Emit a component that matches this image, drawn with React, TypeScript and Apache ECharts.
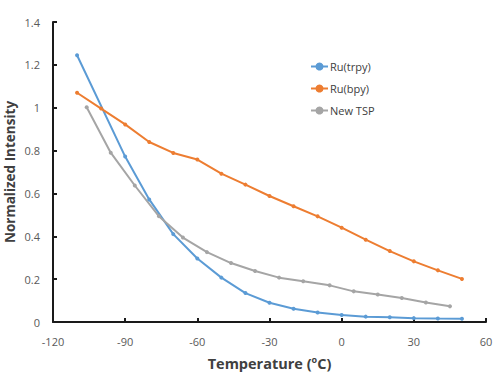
import React, { useEffect, useRef } from "react";
import * as echarts from "echarts";

const trpyX = [-110, -90, -80, -70, -60, -50, -40, -30, -20, -10, 0, 10, 20, 30, 40, 50];
const trpyY = [1.245, 0.772, 0.572, 0.41, 0.296, 0.207, 0.135, 0.09, 0.062, 0.044, 0.033, 0.025, 0.022, 0.018, 0.016, 0.015];

const bpyX = [-110, -100, -90, -80, -70, -60, -50, -40, -30, -20, -10, 0, 10, 20, 30, 40, 50];
const bpyY = [1.07, 0.996, 0.922, 0.84, 0.789, 0.758, 0.692, 0.641, 0.588, 0.54, 0.493, 0.44, 0.384, 0.331, 0.283, 0.241, 0.201];

const tspX = [-106, -96, -86, -76, -66, -56, -46, -36, -26, -16, -5, 5, 15, 25, 35, 45];
const tspY = [1.002, 0.79, 0.637, 0.494, 0.394, 0.326, 0.275, 0.238, 0.207, 0.19, 0.171, 0.143, 0.128, 0.112, 0.091, 0.073];

const seriesNames = ["Ru(trpy)", "Ru(bpy)", "New TSP"];
const colors = ["#5B9BD5", "#ED7D31", "#A5A5A5"];

const zip = (xs: number[], ys: number[]) => xs.map((x, i) => [x, ys[i]]);

export default function App() {
  const ref = useRef<HTMLDivElement>(null);
  useEffect(() => {
    if (!ref.current) return;
    const chart = echarts.init(ref.current, undefined, { renderer: "svg" });
    const font = "'Open Sans', 'Liberation Sans', sans-serif";
    const datas = [zip(trpyX, trpyY), zip(bpyX, bpyY), zip(tspX, tspY)];
    chart.setOption({
      animation: false,
      textStyle: { fontFamily: font },
      grid: { left: 53, right: 9, top: 22, bottom: 50, containLabel: false, outerBoundsMode: "none" },
      legend: {
        orient: "vertical",
        left: 305,
        top: 56,
        itemWidth: 17,
        itemHeight: 10,
        itemGap: 11,
        data: seriesNames,
        textStyle: { fontSize: 11, color: "#404040", fontFamily: font, padding: [0, 0, 0, -3] },
      },
      xAxis: {
        type: "value",
        min: -120,
        max: 60,
        interval: 30,
        splitLine: { show: false },
        axisLine: { onZero: false, lineStyle: { color: "#1a1a1a", width: 2 } },
        axisTick: { inside: true, length: 4, lineStyle: { color: "#1a1a1a", width: 2 } },
        axisLabel: { color: "#595959", fontSize: 11, margin: 14, fontFamily: font },
        name: "{a|Temperature (}{s|o}{a|C)}",
        nameLocation: "middle",
        nameMoveOverlap: false,
        nameGap: 33,
        nameTextStyle: {
          rich: {
            a: { fontSize: 14.5, fontWeight: "bold", color: "#404040", fontFamily: font },
            s: { fontSize: 9, fontWeight: "bold", color: "#404040", fontFamily: font, verticalAlign: "top", padding: [0, 0, 7, 0] },
          },
        },
      },
      yAxis: {
        type: "value",
        min: 0,
        max: 1.4,
        interval: 0.2,
        splitLine: { show: false },
        axisLine: { show: true, onZero: false, lineStyle: { color: "#1a1a1a", width: 2 } },
        axisTick: { show: true, inside: true, length: 4, lineStyle: { color: "#1a1a1a", width: 2 } },
        axisLabel: { color: "#595959", fontSize: 11, margin: 13, fontFamily: font },
        name: "Normalized Intensity",
        nameLocation: "middle",
        nameMoveOverlap: false,
        nameGap: 36,
        nameTextStyle: { fontSize: 13.5, fontWeight: "bold", color: "#404040", fontFamily: font },
      },
      series: seriesNames.map((n, i) => ({
        name: n,
        type: "line",
        data: datas[i],
        symbol: "circle",
        symbolSize: 4,
        lineStyle: { width: 2, color: colors[i] },
        itemStyle: { color: colors[i] },
      })),
    });
    return () => chart.dispose();
  }, []);
  return <div ref={ref} style={{ width: 495, height: 372, position: "absolute", left: 0, top: 0 }} />;
}
